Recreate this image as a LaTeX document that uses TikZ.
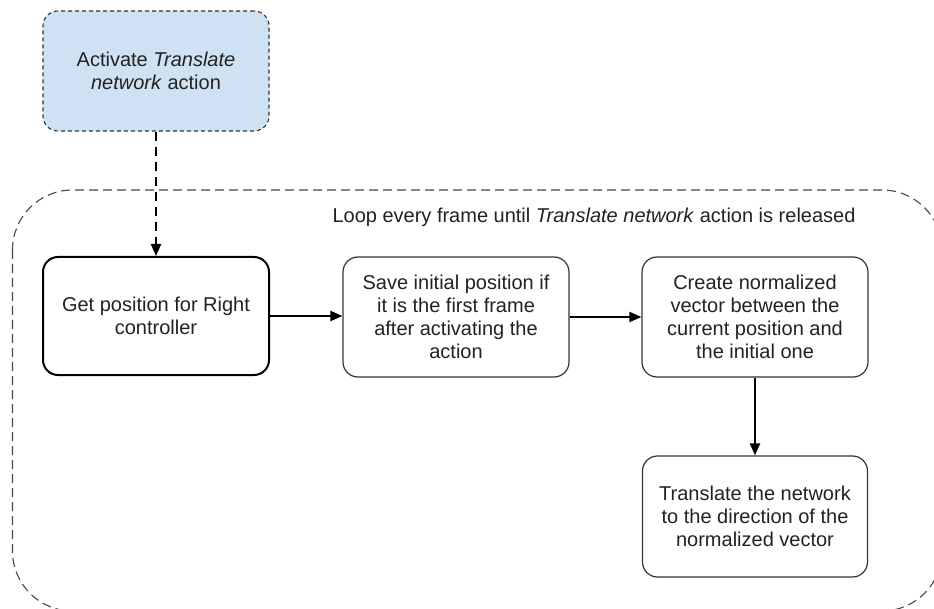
\documentclass[tikz,border=0pt]{standalone}
\usepackage{fontspec}
\setmainfont{Liberation Sans}
\usetikzlibrary{arrows.meta}
\definecolor{topfill}{HTML}{CFE2F3}
\definecolor{txt}{HTML}{222222}
\definecolor{edge}{HTML}{333333}
\tikzset{
  stepbox/.style={draw=edge, line width=1.2pt, rounded corners=15pt, fill=white,
    minimum width=226pt, minimum height=120pt, align=center, text=txt,
    font=\fontsize{20}{23}\selectfont, inner sep=0pt},
  startbox/.style={stepbox, draw=black, line width=2pt},
  topbox/.style={stepbox, fill=topfill, dash pattern=on 4pt off 3pt, line width=1.1pt},
  flow/.style={draw=black, line width=2pt, -{Triangle[length=12pt,width=10pt]}},
  dflow/.style={flow, dash pattern=on 9pt off 6pt},
  loopframe/.style={draw=edge!90, line width=1.1pt, dash pattern=on 9pt off 5pt, rounded corners=60pt}
}
\begin{document}
\begin{tikzpicture}[x=1pt,y=-1pt]
\useasboundingbox (0,0) rectangle (934,609);
\begin{scope}
\clip (0,0) rectangle (934,609);
\draw[loopframe] (12.5,190) rectangle (942,611);
\end{scope}
\node[font=\fontsize{20}{23}\selectfont, text=txt] (looplabel) at (594,217)
  {Loop every frame until \textit{Translate network} action is released};
\node[topbox, minimum height=120pt] (act) at (156,71)
  {Activate \textit{Translate}\\\textit{network} action};
\node[startbox, minimum height=118pt] (get) at (156,316)
  {Get position for Right\\controller};
\node[stepbox] (save) at (456,317)
  {Save initial position if\\it is the first frame\\after activating the\\action};
\node[stepbox] (create) at (755,317)
  {Create normalized\\vector between the\\current position and\\the initial one};
\node[stepbox, minimum width=225pt, minimum height=121pt] (trans) at (755,516.5)
  {Translate the network\\to the direction of the\\normalized vector};
\draw[dflow] (act.south) -- (get.north);
\draw[flow] (get.east) -- (get.east -| save.west);
\draw[flow] (save.east) -- (create.west);
\draw[flow] (create.south) -- (trans.north);
\end{tikzpicture}
\end{document}
